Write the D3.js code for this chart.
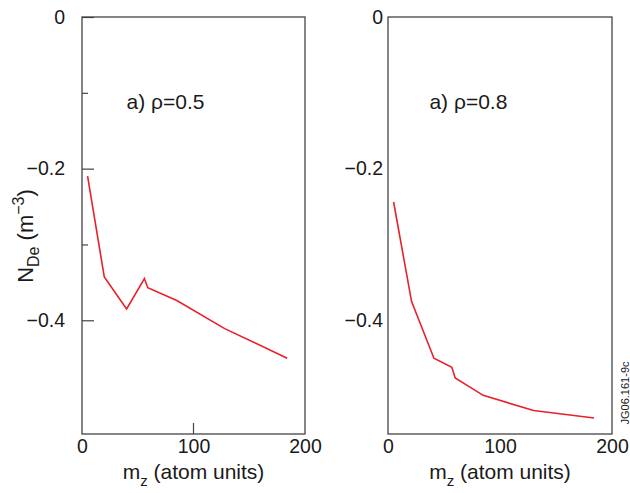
<!DOCTYPE html>
<html>
<head>
<meta charset="utf-8">
<script src="https://cdn.jsdelivr.net/npm/d3@7"></script>
<style>
  body { margin: 0; background: #fff; }
  text { font-family: "Liberation Sans", Arial, Helvetica, sans-serif; fill: #1a1a1a; }
</style>
</head>
<body>
<svg width="630" height="493"></svg>
<script>
// values
var mzLeft  = [5, 20, 40, 56, 59, 85, 128, 184];
var ndeLeft = [-0.21, -0.343, -0.385, -0.345, -0.357, -0.374, -0.411, -0.45];
var mzRight  = [5, 21, 41, 57, 60, 85, 130, 184];
var ndeRight = [-0.244, -0.375, -0.45, -0.462, -0.476, -0.499, -0.519, -0.529];
var yMajor = [0, -0.2, -0.4];
var yMinor = [-0.1, -0.3];
var xTicks = [0, 100, 200];
var panelLabels = ["a) ρ=0.5", "a) ρ=0.8"];

var svg = d3.select("svg");
var top_ = 17, bottom = 434;

var yScale = d3.scaleLinear().domain([-0.55, 0]).range([bottom, top_]);

function fmt(d) { return d === 0 ? "0" : "\u2212" + Math.abs(d).toFixed(1); }

var panels = [
  { left: 82, right: 305, mz: mzLeft, nde: ndeLeft, label: panelLabels[0], lx: 40, ticks: true },
  { left: 388, right: 612, mz: mzRight, nde: ndeRight, label: panelLabels[1], lx: 37, ticks: false }
];

panels.forEach(function(p) {
  var xScale = d3.scaleLinear().domain([0, 200]).range([p.left, p.right]);
  var g = svg.append("g");

  // y axis
  var yAx = g.append("g")
      .attr("transform", "translate(" + p.left + ",0)")
      .call(d3.axisLeft(yScale).tickValues(yMajor).tickFormat(fmt)
        .tickSizeInner(p.ticks ? -12 : 0).tickSizeOuter(0).tickPadding(p.ticks ? 17 : 5));
  yAx.select(".domain").remove();
  yAx.selectAll("text").attr("font-size", 19.5).attr("fill", "#1a1a1a");
  yAx.selectAll("line").attr("stroke", "#444").attr("stroke-width", 1.2);

  if (p.ticks) {
    var yMin = g.append("g")
        .attr("transform", "translate(" + p.left + ",0)")
        .call(d3.axisLeft(yScale).tickValues(yMinor).tickFormat("").tickSizeInner(-6).tickSizeOuter(0));
    yMin.select(".domain").remove();
    yMin.selectAll("line").attr("stroke", "#444").attr("stroke-width", 1.2);
  }

  // x axis
  var xAx = g.append("g")
      .attr("transform", "translate(0," + bottom + ")")
      .call(d3.axisBottom(xScale).tickValues(xTicks).tickFormat(d3.format("d"))
        .tickSizeInner(0).tickSizeOuter(0).tickPadding(5));
  xAx.select(".domain").remove();
  xAx.selectAll("line").remove();
  xAx.selectAll("text").attr("font-size", 19.5).attr("fill", "#1a1a1a");

  if (p.ticks) {
    g.append("line")
      .attr("x1", xScale(100)).attr("x2", xScale(100))
      .attr("y1", bottom).attr("y2", bottom - 11)
      .attr("stroke", "#444").attr("stroke-width", 1.2);
  }

  // frame
  g.append("rect")
    .attr("x", p.left).attr("y", top_)
    .attr("width", p.right - p.left).attr("height", bottom - top_)
    .attr("fill", "none").attr("stroke", "#444").attr("stroke-width", 1.3);

  // series
  var pts = p.mz.map(function(m, i) { return [m, p.nde[i]]; });
  g.append("path")
    .datum(pts)
    .attr("fill", "none")
    .attr("stroke", "#e8202a")
    .attr("stroke-width", 1.6)
    .attr("d", d3.line().x(function(d) { return xScale(d[0]); }).y(function(d) { return yScale(d[1]); }));

  // panel label
  g.append("text")
    .attr("x", xScale(p.lx)).attr("y", yScale(-0.121))
    .attr("font-size", 21)
    .text(p.label);

  // x label
  var xl = g.append("text")
    .attr("x", xScale(100)).attr("y", 479)
    .attr("text-anchor", "middle")
    .attr("font-size", 21);
  xl.append("tspan").text("m");
  xl.append("tspan").attr("font-size", 15).attr("dy", 7).text("z");
  xl.append("tspan").attr("dy", -7).text(" (atom units)");
});

// y label
var yl = svg.append("text")
  .attr("transform", "translate(33,236) rotate(-90)")
  .attr("text-anchor", "middle")
  .attr("font-size", 22);
yl.append("tspan").text("N");
yl.append("tspan").attr("font-size", 16).attr("dy", 6).text("De");
yl.append("tspan").attr("dy", -6).text(" (m");
yl.append("tspan").attr("font-size", 16).attr("dy", -9).text("\u22123");
yl.append("tspan").attr("dy", 9).text(")");

// figure id
svg.append("text")
  .attr("transform", "translate(629,393) rotate(-90)")
  .attr("text-anchor", "middle")
  .attr("font-size", 11)
  .text("JG06.161-9c");
</script>
</body>
</html>
